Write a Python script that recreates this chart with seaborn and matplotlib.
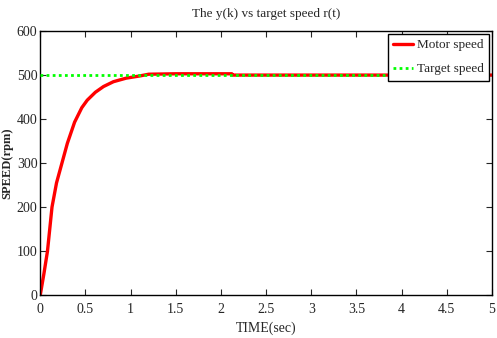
import pandas as pd
import numpy as np
import matplotlib
matplotlib.use("Agg")
import matplotlib.pyplot as plt
import seaborn as sns

# ==================================
# DATA
# ==================================
time_sec = [0, 0.04, 0.08, 0.13, 0.18, 0.24, 0.3, 0.38, 0.46, 0.52, 0.61,
            0.7, 0.81, 0.95, 1.1, 1.2, 1.5, 2.0, 2.12, 2.13, 2.5, 3.0, 4.0, 5.0]
motor_speed = [0, 48, 100, 200, 255, 300, 345, 393, 426, 443, 461,
               474, 485, 493, 498, 502, 503, 503, 503, 500, 500, 500, 500, 500]
target_time = [0, 5]
target_speed = [500, 500]

x_ticks = [0, 0.5, 1, 1.5, 2, 2.5, 3, 3.5, 4, 4.5, 5]
x_tick_labels = ["0", "0.5", "1", "1.5", "2", "2.5", "3", "3.5", "4", "4.5", "5"]
y_ticks = [0, 100, 200, 300, 400, 500, 600]

motor_df = pd.DataFrame({"time": time_sec, "speed": motor_speed})
target_df = pd.DataFrame({"time": target_time, "speed": target_speed})

# ==================================
# STYLE
# ==================================
sns.set_style("ticks")
plt.rcParams["font.family"] = ["Liberation Serif", "DejaVu Serif"]
plt.rcParams["xtick.direction"] = "in"
plt.rcParams["ytick.direction"] = "in"

fig, ax = plt.subplots(figsize=(4.97, 3.38), dpi=100)
fig.subplots_adjust(left=0.081, right=0.99, top=0.908, bottom=0.127)

sns.lineplot(data=motor_df, x="time", y="speed", ax=ax, color="#ff0000",
             linewidth=2.4, label="Motor speed", zorder=2)
sns.lineplot(data=target_df, x="time", y="speed", ax=ax, color="#00ff00",
             linewidth=2, linestyle=(0, (1, 1.2)), label="Target speed", zorder=3)

ax.set_xlim(0, 5)
ax.set_ylim(0, 600)
ax.set_xticks(x_ticks)
ax.set_xticklabels(x_tick_labels)
ax.set_yticks(y_ticks)
ax.tick_params(axis="both", labelsize=10, length=4, width=0.8,
               top=True, right=True)
ax.tick_params(axis="x", pad=6)
ax.tick_params(axis="y", pad=2)
for s in ax.spines.values():
    s.set_visible(True)
    s.set_linewidth(1)
    s.set_color("black")

ax.set_title("The y(k) vs target speed r(t)", fontsize=9.5, pad=10)
ax.set_xlabel("TIME(sec)", fontsize=10, labelpad=4)
ax.set_ylabel("SPEED(rpm)", fontsize=9, fontweight="bold")
ax.yaxis.set_label_coords(-0.06, 0.5)

leg = ax.legend(loc="upper right", fontsize=9.5, frameon=True, fancybox=False,
                edgecolor="black", framealpha=1, borderpad=0.4,
                handlelength=1.5, handletextpad=0.3, labelspacing=0.9,
                borderaxespad=0.2)
leg.get_frame().set_linewidth(1)

fig.savefig("out.png", dpi=100)
